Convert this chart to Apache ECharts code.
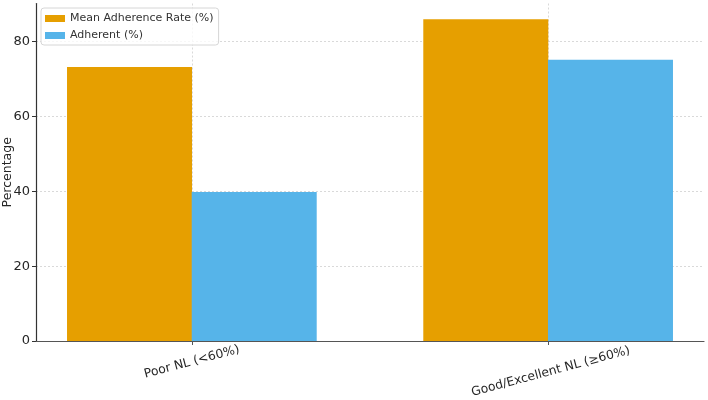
<!DOCTYPE html>
<html><head><meta charset="utf-8">
<script src="https://cdn.jsdelivr.net/npm/echarts@6/dist/echarts.min.js"></script>
<style>html,body{margin:0;padding:0;background:#fff}#c{width:708px;height:400px}</style>
</head><body><div id="c"></div>
<script>
const categories = ['Poor NL (<60%)', 'Good/Excellent NL (\u226560%)'];
const meanAdherence = [73.2, 86.0];
const adherent = [39.8, 75.2];
const yTicks = [0, 20, 40, 60, 80];
const seriesNames = ['Mean Adherence Rate (%)', 'Adherent (%)'];

const FONT = 'DejaVu Sans';
const halfBar = 0.175;
const catIdx = categories.map((_, i) => i);

const chart = echarts.init(document.getElementById('c'), null, {renderer: 'canvas'});
chart.setOption({
  animation: false,
  textStyle: {fontFamily: FONT},
  grid: {left: 36, right: 4, top: 3.5, bottom: 59, containLabel: false, outerBoundsMode: 'none'},
  legend: {
    left: 41, top: 8, orient: 'vertical', itemWidth: 20, itemHeight: 7, itemGap: 6,
    padding: [5, 5, 4, 4], borderColor: '#d6d6d6', borderWidth: 1, borderRadius: 3,
    backgroundColor: 'rgba(255,255,255,0.8)',
    textStyle: {fontFamily: FONT, fontSize: 11, color: '#333'},
    icon: 'rect',
    data: seriesNames
  },
  xAxis: {
    type: 'value', min: -0.4375, max: 1.4375,
    axisLine: {show: true, onZero: false, lineStyle: {color: '#555', width: 1.2}},
    axisTick: {show: true, customValues: catIdx, length: 4, lineStyle: {color: '#555'}},
    axisLabel: {
      customValues: catIdx, rotate: 15, align: 'center', verticalAlign: 'middle', margin: 21,
      fontFamily: FONT, fontSize: 12.3, color: '#262626', lineHeight: 20,
      formatter: v => {
        const i = Math.round(v);
        const t = categories[i] || '';
        return t.length > 16 ? '\n' + t : t;
      }
    },
    splitLine: {show: true, lineStyle: {color: '#d0d0d0', type: [2, 2], width: 0.8}}
  },
  yAxis: {
    type: 'value', min: 0, max: 90.2, interval: 20,
    name: 'Percentage', nameLocation: 'middle', nameGap: 21.5, nameRotate: 90, nameMoveOverlap: false,
    nameTextStyle: {fontFamily: FONT, fontSize: 12.5, color: '#262626'},
    axisLine: {show: true, onZero: false, lineStyle: {color: '#333', width: 1.2}},
    axisTick: {show: true, length: 4, lineStyle: {color: '#333'}},
    axisLabel: {fontFamily: FONT, fontSize: 13, color: '#262626', margin: 6, showMaxLabel: false,
      formatter: v => yTicks.includes(v) ? String(v) : ''},
    splitLine: {show: true, showMaxLine: false, lineStyle: {color: '#d0d0d0', type: [2, 2], width: 0.8}}
  },
  series: [
    {
      name: seriesNames[0], type: 'bar', barWidth: 125, itemStyle: {color: '#E69F00'},
      data: meanAdherence.map((v, i) => [i - halfBar, v]), z: 3
    },
    {
      name: seriesNames[1], type: 'bar', barWidth: 125, barGap: '-100%', itemStyle: {color: '#56B4E9'},
      data: adherent.map((v, i) => [i + halfBar, v]), z: 3
    }
  ]
});
</script></body></html>
